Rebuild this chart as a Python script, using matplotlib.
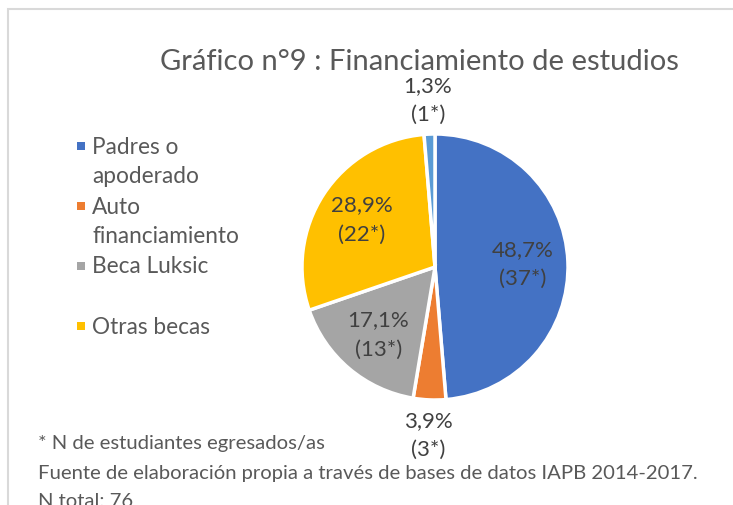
import matplotlib
matplotlib.use("Agg")
import matplotlib.pyplot as plt
import numpy as np
from matplotlib.patches import Rectangle

plt.rcParams['font.family'] = ['Lato', 'DejaVu Sans']

categories = ['Padres o\napoderado', 'Auto\nfinanciamiento', 'Beca Luksic', 'Otras becas', 'Otros']
counts = [37, 3, 13, 22, 1]
pct_labels = ['48,7%', '3,9%', '17,1%', '28,9%', '1,3%']
colors = ['#4472C4', '#ED7D31', '#A5A5A5', '#FFC000', '#5B9BD5']
legend_n = 4

W, H = 733, 506
fig = plt.figure(figsize=(W / 100, H / 100), dpi=100)

# marco del gráfico
fig.patches.append(Rectangle((8 / W, -0.1), 1.0, (H - 10) / H + 0.1, transform=fig.transFigure,
                             fill=False, edgecolor='#D9D9D9', linewidth=1.5))

# torta
cx, cy, r = 435, 268, 133
ax = fig.add_axes([(cx - r) / W, (H - cy - r) / H, 2 * r / W, 2 * r / H])
wedges, _ = ax.pie(counts, colors=colors, startangle=90, counterclock=False,
                   wedgeprops=dict(edgecolor='white', linewidth=2.5))
ax.set_xlim(-1, 1)
ax.set_ylim(-1, 1)
ax.set_aspect('equal')
ax.axis('off')

for w, p, n in zip(wedges, pct_labels, counts):
    ang = np.deg2rad((w.theta1 + w.theta2) / 2)
    dist = 0.66 if n > 5 else 1.26
    ax.text(dist * np.cos(ang), dist * np.sin(ang), '%s\n(%d*)' % (p, n),
            ha='center', va='center', fontsize=16, color='#404040', linespacing=1.55)

fig.text(419 / W, 1 - 62 / H, 'Gráfico n°9 : Financiamiento de estudios',
         ha='center', va='center', fontsize=21, color='#595959')

# leyenda
for i in range(legend_n):
    y0 = 147 + i * 60
    fig.patches.append(Rectangle((77 / W, 1 - (y0 + 4) / H), 8 / W, 8 / H,
                                 transform=fig.transFigure, facecolor=colors[i], edgecolor='none'))
    for j, line in enumerate(categories[i].split('\n')):
        fig.text(92 / W, 1 - (y0 + j * 30) / H, line, ha='left', va='center',
                 fontsize=16.3, color='#595959')

notas = ['* N de estudiantes egresados/as',
         'Fuente de elaboración propia a través de bases de datos IAPB 2014-2017.',
         'N total: 76']
for i, t in enumerate(notas):
    fig.text(38 / W, 1 - (444 + i * 29) / H, t, ha='left', va='center',
             fontsize=14.6, color='#595959')

fig.savefig('out.png', dpi=100)
